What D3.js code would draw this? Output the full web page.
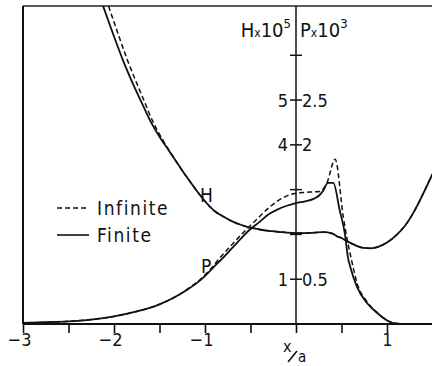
<!DOCTYPE html>
<html>
<head>
<meta charset="utf-8">
<script src="https://cdn.jsdelivr.net/npm/d3@7"></script>
<style>
  body { margin: 0; background: #fff; }
  svg text { font-family: "DejaVu Sans Condensed", "Liberation Sans Narrow", "DejaVu Sans", sans-serif; fill: #111; }
</style>
</head>
<body>
<svg id="svg1"></svg>
<script>
// H x 10^5, finite
const hFiniteX = [-2.12, -2.0, -1.9, -1.8, -1.7, -1.6, -1.5, -1.4, -1.3, -1.2, -1.1, -1.0, -0.9, -0.8, -0.7, -0.6, -0.5, -0.4, -0.3, -0.2, -0.1, 0, 0.1, 0.2, 0.3, 0.4, 0.45, 0.5, 0.56, 0.65, 0.74, 0.82, 0.9, 1.0, 1.1, 1.2, 1.3, 1.4, 1.5];
const hFiniteY = [7.1, 6.42, 5.88, 5.4, 4.96, 4.53, 4.18, 3.88, 3.58, 3.28, 3.0, 2.74, 2.53, 2.4, 2.29, 2.21, 2.15, 2.11, 2.08, 2.06, 2.04, 2.03, 2.03, 2.04, 2.05, 2.02, 1.96, 1.92, 1.85, 1.76, 1.7, 1.69, 1.72, 1.82, 1.98, 2.2, 2.52, 2.92, 3.35];
// H x 10^5, infinite
const hInfX = [-2.06, -1.945, -1.85, -1.755, -1.665, -1.575, -1.485, -1.395, -1.3, -1.2, -1.1, -1.0, -0.9, -0.8, -0.7, -0.6, -0.5, -0.4, -0.3, -0.2, -0.1, 0, 0.1, 0.2, 0.3, 0.4, 0.45, 0.5, 0.56, 0.65, 0.74, 0.82, 0.9, 1.0, 1.1, 1.2, 1.3, 1.4, 1.5];
const hInfY = [7.1, 6.42, 5.88, 5.4, 4.96, 4.53, 4.18, 3.88, 3.58, 3.28, 3.0, 2.74, 2.53, 2.4, 2.29, 2.21, 2.15, 2.11, 2.08, 2.06, 2.04, 2.03, 2.03, 2.04, 2.05, 2.02, 1.96, 1.92, 1.85, 1.76, 1.7, 1.69, 1.72, 1.82, 1.98, 2.2, 2.52, 2.92, 3.35];
// P x 10^3, finite
const pFiniteX = [-3.0, -2.75, -2.5, -2.25, -2.0, -1.75, -1.5, -1.35, -1.2, -1.05, -0.9, -0.8, -0.7, -0.6, -0.5, -0.4, -0.3, -0.2, -0.1, 0, 0.1, 0.2, 0.26, 0.3, 0.35, 0.41, 0.48, 0.54, 0.57, 0.6, 0.67, 0.78, 0.89, 1.0, 1.1, 1.2, 1.5];
const pFiniteY = [0.012, 0.02, 0.03, 0.05, 0.085, 0.14, 0.22, 0.29, 0.38, 0.49, 0.64, 0.74, 0.85, 0.96, 1.06, 1.14, 1.225, 1.28, 1.32, 1.35, 1.37, 1.4, 1.44, 1.49, 1.575, 1.575, 1.27, 0.99, 0.75, 0.625, 0.415, 0.235, 0.125, 0.04, 0.005, 0, 0];
// P x 10^3, infinite
const pInfX = [-3.0, -2.5, -2.25, -2.0, -1.75, -1.5, -1.35, -1.2, -1.05, -0.95, -0.835, -0.7, -0.6, -0.5, -0.4, -0.29, -0.2, -0.1, 0, 0.1, 0.2, 0.26, 0.34, 0.43, 0.52, 0.57, 0.61, 0.67, 0.78, 0.89, 1.0, 1.12, 1.2, 1.5];
const pInfY = [0.012, 0.03, 0.05, 0.085, 0.14, 0.22, 0.29, 0.385, 0.5, 0.6, 0.74, 0.89, 1.0, 1.1, 1.2, 1.305, 1.375, 1.43, 1.46, 1.47, 1.475, 1.48, 1.575, 1.84, 1.195, 0.905, 0.715, 0.46, 0.25, 0.13, 0.04, 0.005, 0, 0];

const xTicks = [-3, -2.5, -2, -1.5, -1, -0.5, 0, 0.5, 1];
const xTickLabels = {"-3": "\u22123", "-2": "\u22122", "-1": "\u22121", "1": "1"};
const hTicks = [1, 2, 3, 4, 5, 6];
const hTickLabels = [[1, "1"], [4, "4"], [5, "5"]];
const pTickLabels = [[0.5, "0.5"], [2, "2"], [2.5, "2.5"]];
const legendLabels = ["Infinite", "Finite"];

const W = 432, H = 366;
const svg = d3.select("#svg1").attr("width", W).attr("height", H);

const xScale = d3.scaleLinear().domain([-3, 1.5]).range([23, 432.5]);
const yScale = d3.scaleLinear().domain([0, 7.1]).range([324, 6]);
const pScale = d3.scaleLinear().domain([0, 3.55]).range([324, 6]);

const x0 = xScale(0);

// frame
svg.append("line").attr("x1", xScale(-3)).attr("x2", W).attr("y1", yScale(7.1)).attr("y2", yScale(7.1))
  .attr("stroke", "#222").attr("stroke-width", 1.5);
svg.append("line").attr("x1", xScale(-3)).attr("x2", xScale(-3)).attr("y1", yScale(7.1)).attr("y2", yScale(0))
  .attr("stroke", "#111").attr("stroke-width", 2);
svg.append("line").attr("x1", x0).attr("x2", x0).attr("y1", yScale(7.1)).attr("y2", yScale(0))
  .attr("stroke", "#111").attr("stroke-width", 1.5);

// bottom axis
const xAxis = svg.append("g")
  .attr("transform", `translate(0, ${yScale(0)})`)
  .call(d3.axisBottom(xScale).tickValues(xTicks).tickSize(9).tickSizeOuter(0)
    .tickFormat(d => xTickLabels[String(d)] || ""));
xAxis.select(".domain").attr("stroke", "#111").attr("stroke-width", 2)
  .attr("d", `M${xScale(-3)},0H${W}`);
xAxis.selectAll(".tick line").attr("stroke", "#111").attr("stroke-width", 1.6);
xAxis.selectAll(".tick text")
  .attr("font-size", 18).attr("y", 9).attr("dy", "0.71em")
  .attr("dx", d => d < 0 ? -4 : 0)
  .attr("font-family", null);

// vertical axis crosses
svg.selectAll(".htick").data(hTicks).enter().append("line")
  .attr("class", "htick")
  .attr("x1", x0 - 6).attr("x2", x0 + 6)
  .attr("y1", d => yScale(d)).attr("y2", d => yScale(d))
  .attr("stroke", "#111").attr("stroke-width", 1.5);

svg.selectAll(".hlab").data(hTickLabels).enter().append("text")
  .attr("class", "hlab")
  .attr("x", x0 - 8).attr("y", d => yScale(d[0]))
  .attr("dy", "0.36em").attr("text-anchor", "end").attr("font-size", 18)
  .text(d => d[1]);
svg.selectAll(".plab").data(pTickLabels).enter().append("text")
  .attr("class", "plab")
  .attr("x", x0 + 6).attr("y", d => pScale(d[0]))
  .attr("dy", "0.36em").attr("text-anchor", "start").attr("font-size", 18)
  .text(d => d[1]);

// axis titles at top
const tH = svg.append("text").attr("x", x0 - 5).attr("y", 37).attr("text-anchor", "end").attr("font-size", 20);
tH.append("tspan").text("H");
tH.append("tspan").attr("font-size", 12).text("x");
tH.append("tspan").text("10");
tH.append("tspan").attr("font-size", 13).attr("dy", -9).text("5");
const tP = svg.append("text").attr("x", x0 + 4).attr("y", 37).attr("text-anchor", "start").attr("font-size", 20);
tP.append("tspan").text("P");
tP.append("tspan").attr("font-size", 12).text("x");
tP.append("tspan").text("10");
tP.append("tspan").attr("font-size", 13).attr("dy", -9).text("3");

// x/a label
svg.append("text").attr("x", x0 - 13).attr("y", 352).attr("font-size", 16).text("x");
svg.append("line").attr("x1", x0 - 8).attr("y1", 362).attr("x2", x0 + 1).attr("y2", 351)
  .attr("stroke", "#111").attr("stroke-width", 1.6);
svg.append("text").attr("x", x0 + 2).attr("y", 362).attr("font-size", 15).text("a");

// curves
const line = (xs, ys, sc) => d3.line()
  .x(i => xScale(xs[i])).y(i => sc(ys[i]))
  .curve(d3.curveMonotoneX)(d3.range(xs.length));

svg.append("clipPath").attr("id", "plotclip").append("rect")
  .attr("x", xScale(-3)).attr("y", yScale(7.1)).attr("width", W - xScale(-3)).attr("height", yScale(0) - yScale(7.1));

const curves = svg.append("g").attr("clip-path", "url(#plotclip)");
curves.append("path").attr("d", line(hInfX, hInfY, yScale))
  .attr("fill", "none").attr("stroke", "#111").attr("stroke-width", 1.5).attr("stroke-dasharray", "5,3");
curves.append("path").attr("d", line(pInfX, pInfY, pScale))
  .attr("fill", "none").attr("stroke", "#111").attr("stroke-width", 1.5).attr("stroke-dasharray", "5,3");
curves.append("path").attr("d", line(hFiniteX, hFiniteY, yScale))
  .attr("fill", "none").attr("stroke", "#111").attr("stroke-width", 1.8);
curves.append("path").attr("d", line(pFiniteX, pFiniteY, pScale))
  .attr("fill", "none").attr("stroke", "#111").attr("stroke-width", 1.8);

// curve labels
svg.append("text").attr("x", 200).attr("y", 202).attr("font-size", 19).text("H");
svg.append("text").attr("x", 201).attr("y", 273).attr("font-size", 19).text("P");

// legend
const legend = svg.append("g");
legendLabels.forEach((lab, i) => {
  const ly = 208 + i * 27;
  legend.append("line").attr("x1", 57).attr("x2", 89).attr("y1", ly).attr("y2", ly)
    .attr("stroke", "#111").attr("stroke-width", 1.6)
    .attr("stroke-dasharray", i === 0 ? "5,3" : null);
  legend.append("text").attr("x", 97).attr("y", ly).attr("dy", "0.36em")
    .attr("font-size", 19).attr("letter-spacing", 1.6).text(lab);
});
</script>
</body>
</html>
